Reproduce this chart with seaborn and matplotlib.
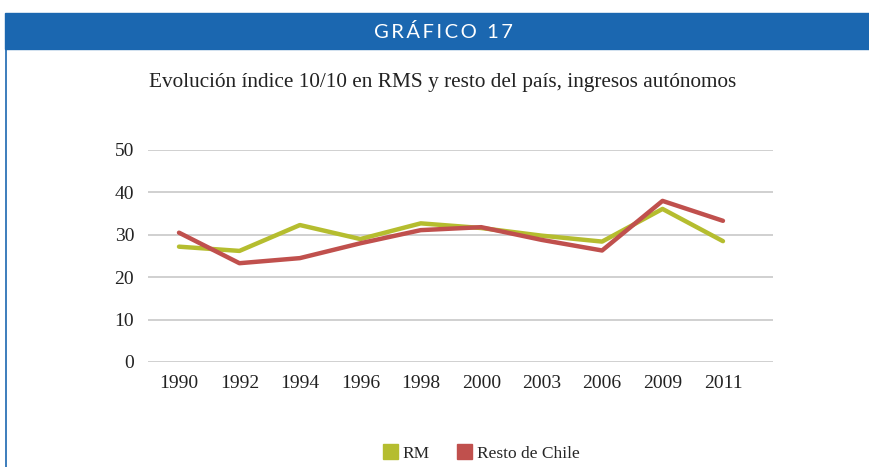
import pandas as pd
import matplotlib.pyplot as plt
import seaborn as sns
from matplotlib.patches import Rectangle, Patch
from matplotlib.lines import Line2D

# ---------- data ----------
years = ['1990', '1992', '1994', '1996', '1998', '2000', '2003', '2006', '2009', '2011']
rm = [27.2, 26.2, 32.3, 29.0, 32.7, 31.6, 29.8, 28.4, 36.1, 28.5]
resto = [30.5, 23.3, 24.5, 28.0, 31.1, 31.8, 28.8, 26.3, 38.0, 33.3]
series_names = ['RM', 'Resto de Chile']
colors = ['#b5bd2f', '#c0504d']

df = pd.DataFrame({
    'year': years * 2,
    'value': rm + resto,
    'serie': [series_names[0]] * len(years) + [series_names[1]] * len(years),
})

sns.set_style('white')
plt.rcParams['font.family'] = ['Liberation Serif', 'DejaVu Serif']

W, H = 869, 467
fig = plt.figure(figsize=(W / 100, H / 100), dpi=100)

# banner
fig.patches.append(Rectangle((5 / W, 1 - 49 / H), 1, 36 / H, transform=fig.transFigure,
                             color='#1b67b0', zorder=0))
fig.lines.append(Line2D([6 / W, 6 / W], [0, 1 - 48 / H], transform=fig.transFigure,
                        color='#1b67b0', lw=1.2))
fig.text(443 / W, 1 - 32 / H, '\u2009'.join('GRÁFICO') + '  1\u20097', color='white', fontsize=14.5,
         family=['Lato', 'DejaVu Sans'], ha='center', va='center')

fig.text(443 / W, 1 - 82 / H, 'Evolución índice 10/10 en RMS y resto del país, ingresos autónomos',
         fontsize=15.3, ha='center', va='center', color='#222222')

ax = fig.add_axes([148 / W, 1 - 362 / H, (773 - 148) / W, (362 - 150) / H])
sns.lineplot(data=df, x='year', y='value', hue='serie', palette=colors, lw=3.2,
             sort=False, legend=False, ax=ax)

ax.set_ylim(0, 50)
ax.set_yticks(range(0, 51, 10))
ax.set_xlim((148 - 179) / 60.44, (773 - 179) / 60.44)
ax.yaxis.grid(True, color='#c8c8c8', lw=1.2)
ax.set_axisbelow(True)
for s in ax.spines.values():
    s.set_visible(False)
ax.set_xlabel('')
ax.set_ylabel('')
ax.tick_params(axis='both', length=0, labelsize=14, colors='#222222')
ax.tick_params(axis='y', pad=10)
ax.tick_params(axis='x', pad=9)

handles = [Patch(color=c, label=n) for c, n in zip(colors, series_names)]
fig.legend(handles=handles, loc='center', bbox_to_anchor=(481 / W, 1 - 453 / H), ncol=2,
           frameon=False, fontsize=12.5, handlelength=0.9, handleheight=0.9,
           columnspacing=1.55, handletextpad=0.25)

fig.savefig('out.png', dpi=100)
